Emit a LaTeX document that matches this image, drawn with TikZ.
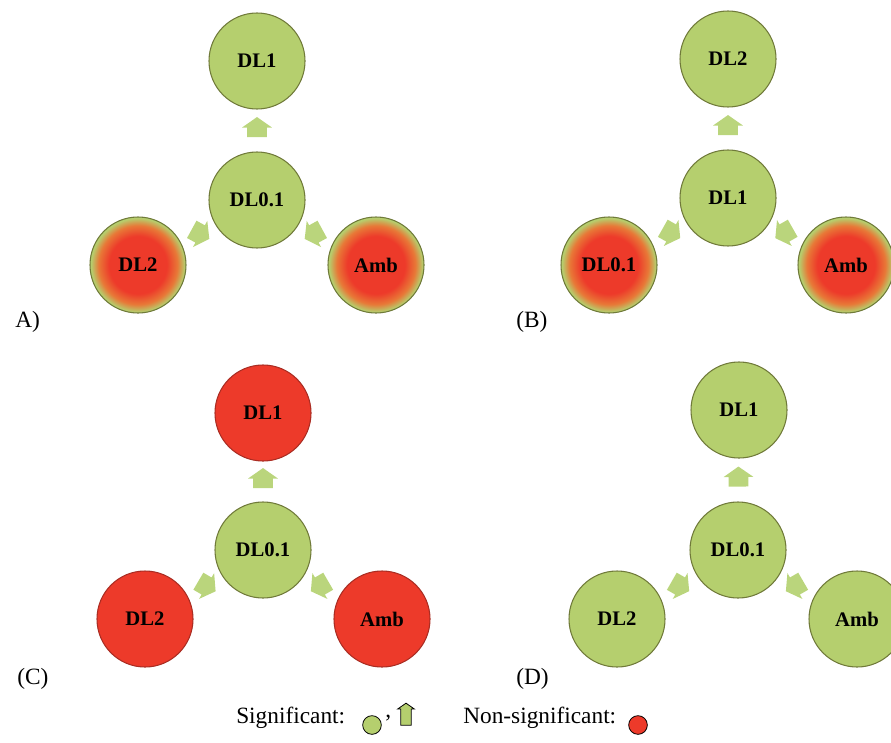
\documentclass[tikz,border=0pt]{standalone}
\usepackage{fontspec}
\setmainfont{Liberation Serif}
\usepackage{tikz}
\usetikzlibrary{shapes.arrows}

\definecolor{sigfill}{RGB}{181,207,110}
\definecolor{arrfill}{RGB}{186,213,124}
\definecolor{rimcol}{RGB}{112,122,58}
\definecolor{nsred}{RGB}{237,58,42}
\definecolor{nsrim}{RGB}{170,45,35}
\definecolor{nsorange}{RGB}{232,120,55}

% the 50bp middle square of the shading is what covers the circle
\pgfdeclareradialshading{nsglow}{\pgfpoint{0bp}{0bp}}{color(0bp)=(nsred); color(15bp)=(nsred); color(20.5bp)=(nsorange); color(24.5bp)=(sigfill); color(25bp)=(sigfill); color(50bp)=(sigfill)}

\tikzset{
  sigcirc/.style={circle, draw=rimcol, line width=0.8pt, fill=sigfill, minimum size=72pt, inner sep=0pt, font=\fontsize{15.5}{15.5}\selectfont\bfseries},
  glowcirc/.style={sigcirc, shading=nsglow},
  redcirc/.style={sigcirc, draw=nsrim, fill=nsred},
  sigarrow/.style={single arrow, fill=arrfill, draw=none, minimum height=15pt, inner xsep=0pt, inner ysep=7.2pt, single arrow head extend=3.8pt, single arrow tip angle=110, sloped, allow upside down, shape border rotate=180},
  panellabel/.style={anchor=west, inner sep=0pt, font=\fontsize{17.5}{17.5}\selectfont},
  legdot/.style={circle, draw=black, line width=0.6pt, minimum size=14pt, inner sep=0pt}
}

\begin{document}
\begin{tikzpicture}[x=0.75pt,y=0.75pt,yscale=-1,xscale=1]
        \path[use as bounding box] (0,0) rectangle (891,742);

        % Panel A
        \node (a01) [sigcirc] at (257,200) {DL0.1};
        \node (a1) [sigcirc] at (257,61) {DL1};
        \node (a2) [glowcirc] at (138,265) {DL2};
        \node (aamb) [glowcirc] at (376,265) {Amb};
        \path (a01) -- node[sigarrow] {} (a1);
        \path (a01) -- node[sigarrow] {} (a2);
        \path (a01) -- node[sigarrow] {} (aamb);
        \node (lba) [panellabel] at (15,322) {A)};

        % Panel B
        \node (b1) [sigcirc] at (728,198) {DL1};
        \node (b2) [sigcirc] at (728,59) {DL2};
        \node (b01) [glowcirc] at (609,265) {DL0.1};
        \node (bamb) [glowcirc] at (846,265) {Amb};
        \path (b1) -- node[sigarrow] {} (b2);
        \path (b1) -- node[sigarrow] {} (b01);
        \path (b1) -- node[sigarrow] {} (bamb);
        \node (lbb) [panellabel] at (516,322) {(B)};

        % Panel C
        \node (c01) [sigcirc] at (263,550) {DL0.1};
        \node (c1) [redcirc] at (263,413) {DL1};
        \node (c2) [redcirc] at (145,619) {DL2};
        \node (camb) [redcirc] at (382,619) {Amb};
        \path (c01) -- node[sigarrow] {} (c1);
        \path (c01) -- node[sigarrow] {} (c2);
        \path (c01) -- node[sigarrow] {} (camb);
        \node (lbc) [panellabel] at (17,679) {(C)};

        % Panel D
        \node (d01) [sigcirc] at (738,550) {DL0.1};
        \node (d1) [sigcirc] at (739,410) {DL1};
        \node (d2) [sigcirc] at (617,619) {DL2};
        \node (damb) [sigcirc] at (857,619) {Amb};
        \path (d01) -- node[sigarrow] {} (d1);
        \path (d01) -- node[sigarrow] {} (d2);
        \path (d01) -- node[sigarrow] {} (damb);
        \node (lbd) [panellabel] at (516,679) {(D)};

        % Legend
        \node (sig) [panellabel] at (236,718) {Significant:};
        \node (sigdot) [legdot, fill=sigfill] at (372,725) {};
        \node (comma) [panellabel] at (385,718) {,};
        \node (sigarr) [single arrow, draw=black, line width=0.6pt, fill=sigfill, rotate=90, minimum height=16.5pt, inner xsep=0pt, inner ysep=3.6pt, single arrow head extend=2.4pt, single arrow tip angle=110] at (406,716) {};
        \node (nsig) [panellabel] at (463,718) {Non-significant:};
        \node (nsdot) [legdot, fill=nsred] at (638,725) {};

    \end{tikzpicture}
\end{document}
